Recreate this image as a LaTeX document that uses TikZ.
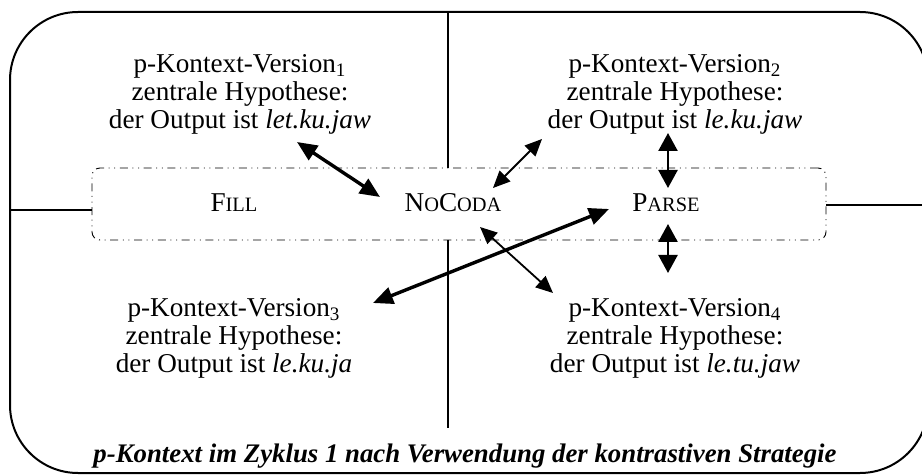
\documentclass[tikz,border=0pt]{standalone}
\usepackage{fontspec}
\setmainfont{Liberation Serif}
\usetikzlibrary{arrows.meta}
\newcommand\fakesc[2]{#1{\fontsize{10.2}{10}\selectfont #2}}
\begin{document}
\begin{tikzpicture}[x=0.5pt,y=-0.5pt,
  every node/.style={inner sep=0pt,outer sep=0pt,font=\fontsize{13.6}{14}\selectfont},
  vtext/.style={align=center},
  frame/.style={line width=1pt,rounded corners=34pt},
  divider/.style={line width=0.6pt},
  dashbox/.style={draw,line width=0.45pt,rounded corners=4pt,
    dash pattern=on 4pt off 2.3pt on 0.5pt off 2.3pt on 0.5pt off 2.3pt},
  thickarr/.style={line width=1.7pt,{Triangle[length=10pt,width=8.5pt]}-{Triangle[length=10pt,width=8.5pt]}},
  thinarr/.style={line width=0.9pt,{Triangle[length=8.5pt,width=7.5pt]}-{Triangle[length=8.5pt,width=7.5pt]}},
  vertarr/.style={line width=1.2pt,{Triangle[length=9pt,width=9.5pt]}-{Triangle[length=9pt,width=9.5pt]}}
]
\useasboundingbox (0,0) rectangle (922,476);
% outer frame
\draw[frame] (10,12) rectangle (928,473);
% dashed constraint box
\node[dashbox,minimum width=367pt,minimum height=36pt] (cbox) at (459,204) {};
% dividers
\coordinate (topV) at (448,12);
\coordinate (topVend) at (448,168);
\coordinate (botV) at (448,240);
\coordinate (botVend) at (448,428);
\coordinate (leftH) at (10,210);
\coordinate (rightH) at (922,205);
\draw[divider] (topV) -- (topVend);
\draw[divider] (botV) -- (botVend);
\draw[divider] (leftH) -- (leftH -| cbox.west);
\draw[divider] (rightH -| cbox.east) -- (rightH);
% constraints
\node[anchor=base] (fill) at (234,212) {\fakesc{F}{ILL}};
\node[anchor=base] (nocoda) at (453,212) {\fakesc{N}{O}\fakesc{C}{ODA}};
\node[anchor=base] (parse) at (666,212) {\fakesc{P}{ARSE}};
% versions
\node[vtext] (v1) at (240,94) {p-Kontext-Version\textsubscript{1}\\zentrale Hypothese:\\der Output ist \textit{let.ku.jaw}};
\node[vtext] (v2) at (675,94) {p-Kontext-Version\textsubscript{2}\\zentrale Hypothese:\\der Output ist \textit{le.ku.jaw}};
\node[vtext] (v3) at (234,338) {p-Kontext-Version\textsubscript{3}\\zentrale Hypothese:\\der Output ist \textit{le.ku.ja}};
\node[vtext] (v4) at (675,338) {p-Kontext-Version\textsubscript{4}\\zentrale Hypothese:\\der Output ist \textit{le.tu.jaw}};
% caption
\node[anchor=base,font=\fontsize{13.4}{14}\selectfont\bfseries\itshape] (cap) at (465,462) {p-Kontext im Zyklus 1 nach Verwendung der kontrastiven Strategie};
% arrow end points
\coordinate (a1s) at (297,142);
\coordinate (a1e) at (380,197);
\coordinate (a2s) at (493,188);
\coordinate (a2e) at (542,139);
\coordinate (a3s) at (668,133);
\coordinate (a3e) at (668,188);
\coordinate (a4s) at (668,224);
\coordinate (a4e) at (668,273);
\coordinate (a5s) at (373,303);
\coordinate (a5e) at (609,209);
\coordinate (a6s) at (480,227);
\coordinate (a6e) at (553,293);
\draw[thickarr] (a1s) -- (a1e);
\draw[thinarr] (a2s) -- (a2e);
\draw[vertarr] (a3s) -- (a3e);
\draw[vertarr] (a4s) -- (a4e);
\draw[thickarr] (a5s) -- (a5e);
\draw[thinarr] (a6s) -- (a6e);
\end{tikzpicture}
\end{document}
